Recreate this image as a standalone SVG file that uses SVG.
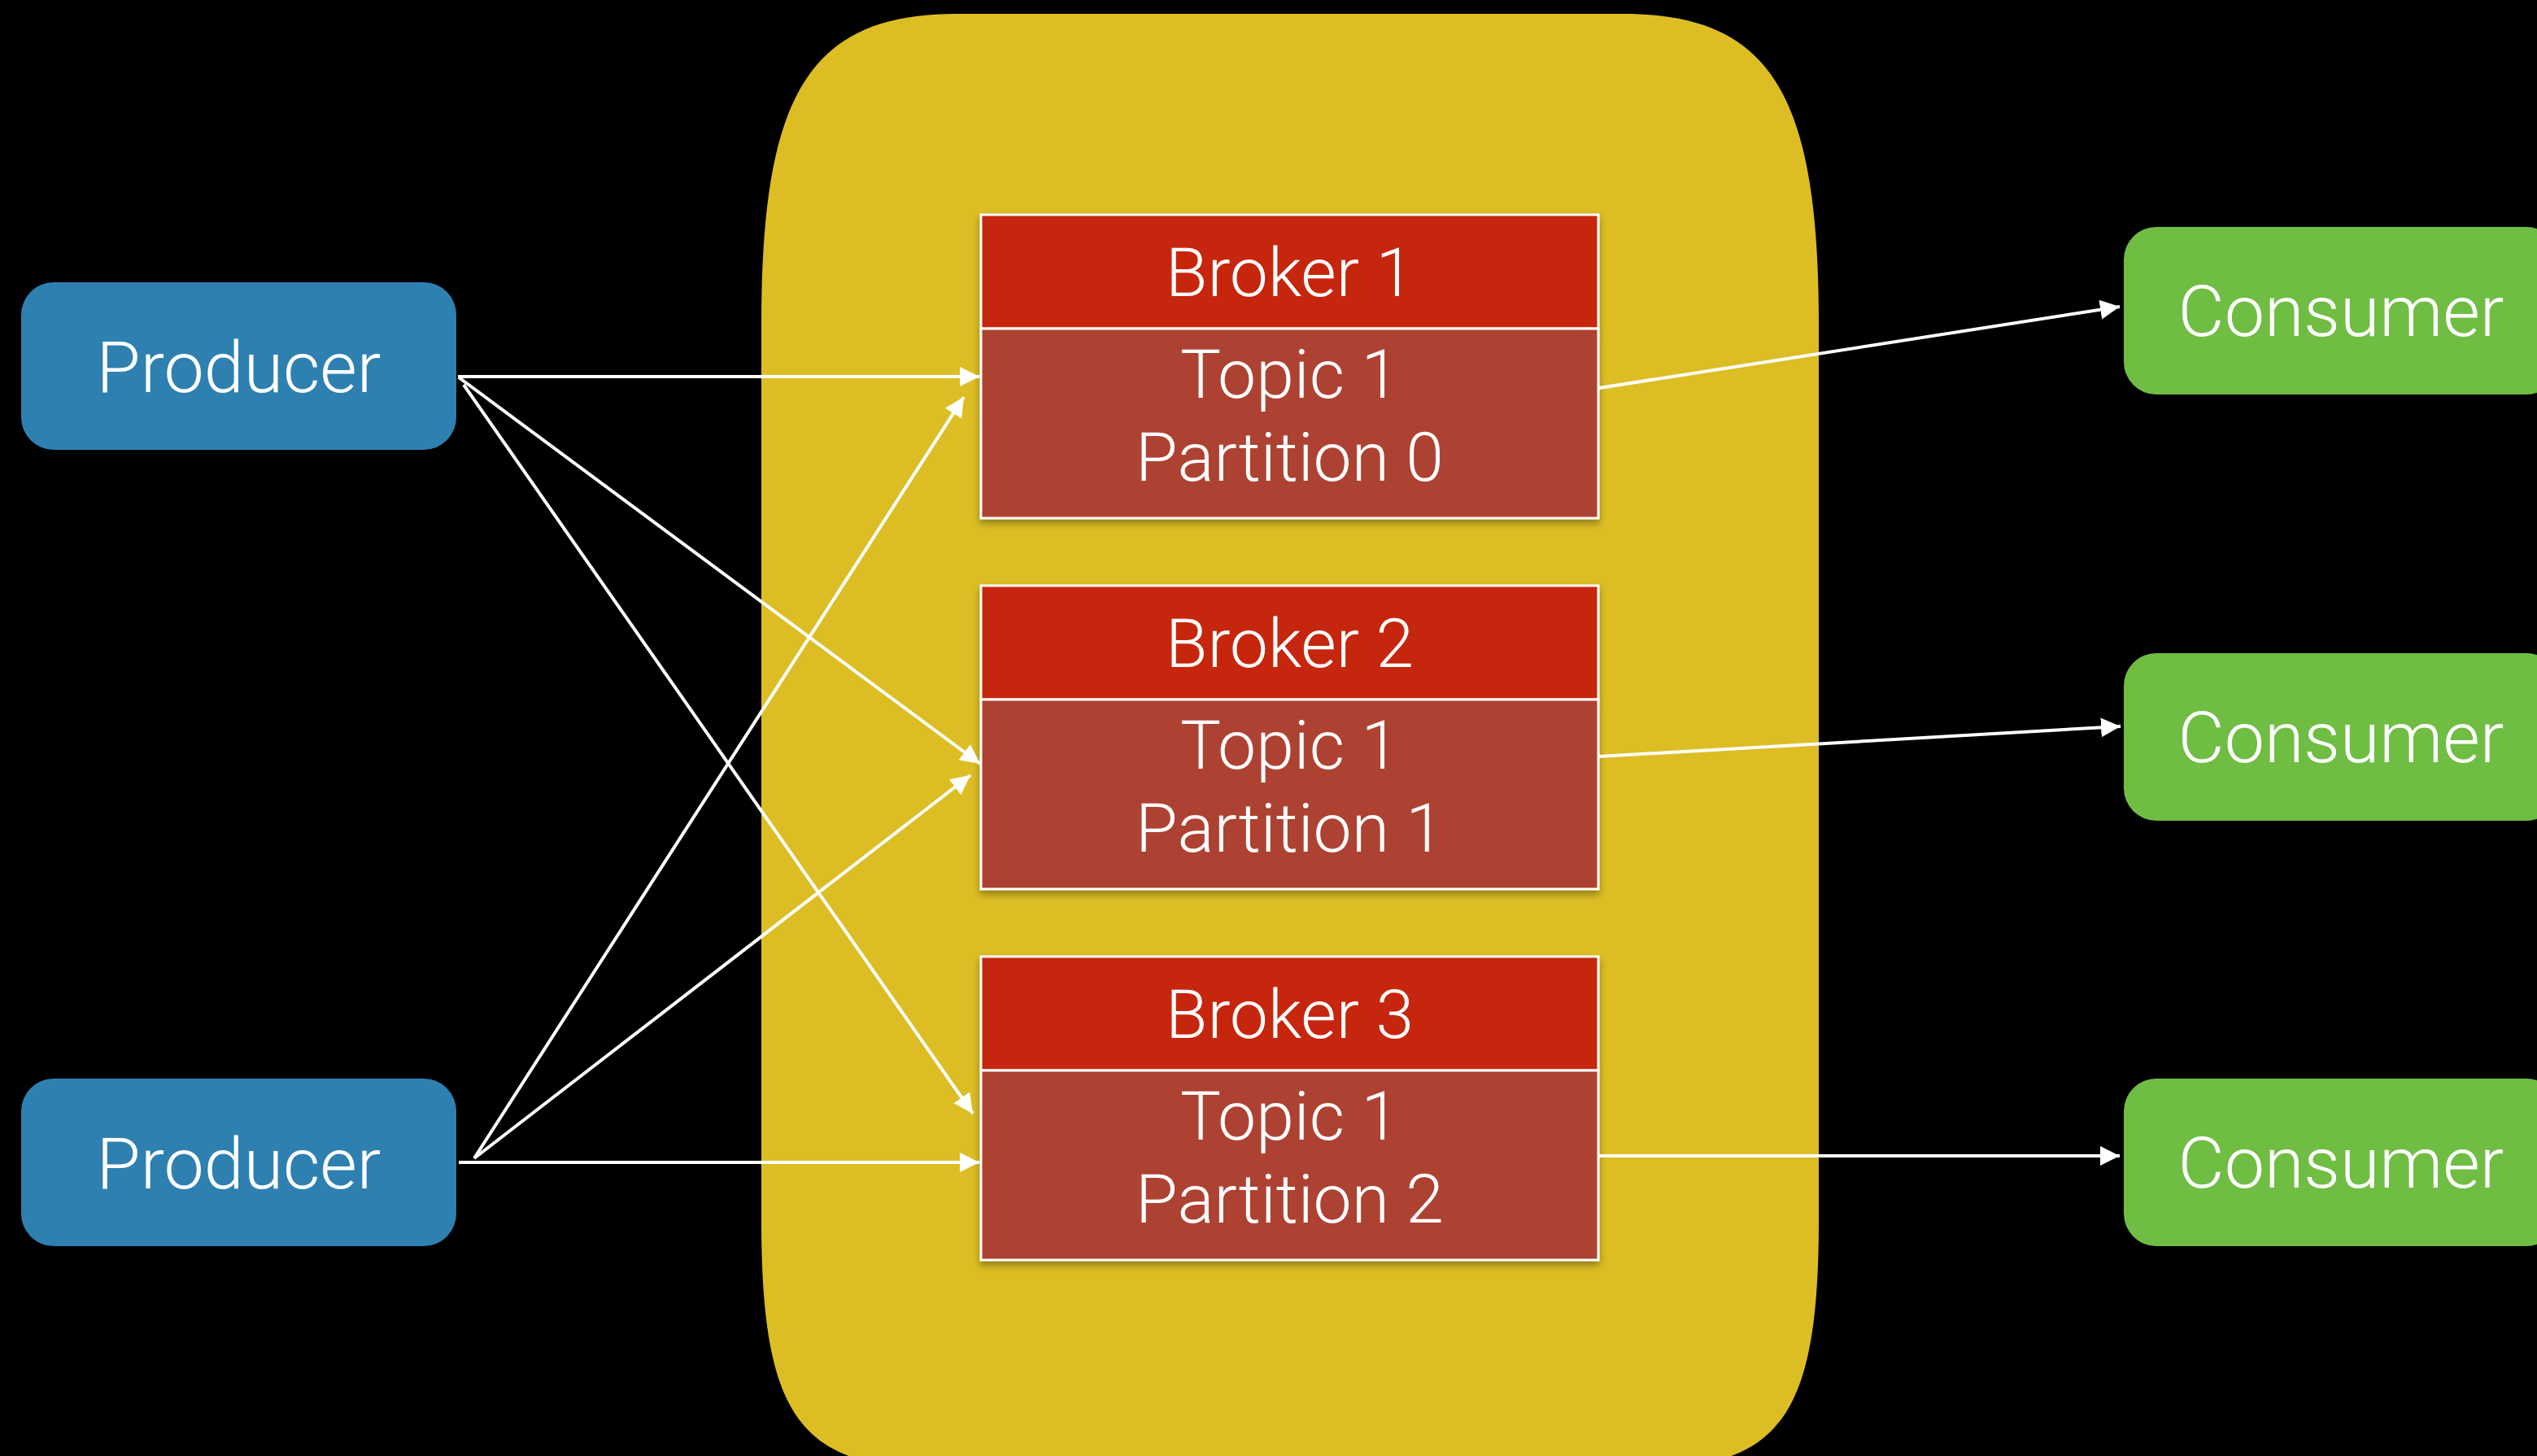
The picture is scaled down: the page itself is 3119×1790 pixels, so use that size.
<svg xmlns="http://www.w3.org/2000/svg" width="3119" height="1790" viewBox="0 0 3119 1790">
  <style>
    .lbl { font-family: Roboto, "Liberation Sans", Arial, sans-serif; font-weight: 300; fill: #ffffff; text-anchor: middle; }
    .big { font-size: 88px; }
    .brk { font-size: 84px; }
    .producer { fill: #2E80B1; }
    .consumer { fill: #70BD44; }
    .head { fill: #C62508; stroke: #ffffff; stroke-width: 3; }
    .body { fill: #AE4232; stroke: #ffffff; stroke-width: 3; }
    .conn { stroke: #ffffff; stroke-width: 4; fill: none; marker-end: url(#arrow); }
  </style>
  <defs>
    <marker id="arrow" markerUnits="userSpaceOnUse" markerWidth="26" markerHeight="26" refX="24" refY="12" orient="auto" viewBox="0 0 26 24">
      <path d="M0,0 L24,12 L0,24 z" fill="#ffffff"/>
    </marker>
    <filter id="shadow" x="-10%" y="-10%" width="120%" height="130%">
      <feDropShadow dx="0" dy="5" stdDeviation="5" flood-color="#000000" flood-opacity="0.35"/>
    </filter>
  </defs>
  <rect x="0" y="0" width="3119" height="1790" fill="#000000"/>

  <g id="cluster">
    <path d="M1176,17 L1996,17 C2180,17 2236,120 2236,400 L2236,1500 C2236,1760 2180,1807 1996,1807 L1176,1807 C992,1807 936,1760 936,1500 L936,400 C936,120 992,17 1176,17 Z" fill="#DCBE24"/>
  </g>

  <g id="producer1">
    <rect class="producer" x="26" y="347" width="535" height="206" rx="40" ry="40"/>
    <text class="lbl big" x="293.5" y="482">Producer</text>
  </g>
  <g id="producer2">
    <rect class="producer" x="26" y="1326" width="535" height="206" rx="40" ry="40"/>
    <text class="lbl big" x="293.5" y="1461">Producer</text>
  </g>

  <g id="broker1" filter="url(#shadow)">
    <rect class="head" x="1206" y="264" width="759" height="140"/>
    <rect class="body" x="1206" y="404" width="759" height="233"/>
    <text class="lbl brk" x="1585.5" y="364">Broker 1</text>
    <text class="lbl brk" x="1585.5" y="489">Topic 1</text>
    <text class="lbl brk" x="1585.5" y="591">Partition 0</text>
  </g>
  <g id="broker2" filter="url(#shadow)">
    <rect class="head" x="1206" y="720" width="759" height="140"/>
    <rect class="body" x="1206" y="860" width="759" height="233"/>
    <text class="lbl brk" x="1585.5" y="820">Broker 2</text>
    <text class="lbl brk" x="1585.5" y="945">Topic 1</text>
    <text class="lbl brk" x="1585.5" y="1047">Partition 1</text>
  </g>
  <g id="broker3" filter="url(#shadow)">
    <rect class="head" x="1206" y="1176" width="759" height="140"/>
    <rect class="body" x="1206" y="1316" width="759" height="233"/>
    <text class="lbl brk" x="1585.5" y="1276">Broker 3</text>
    <text class="lbl brk" x="1585.5" y="1401">Topic 1</text>
    <text class="lbl brk" x="1585.5" y="1503">Partition 2</text>
  </g>

  <g id="consumer1">
    <rect class="consumer" x="2611" y="279" width="535" height="206" rx="40" ry="40"/>
    <text class="lbl big" x="2878" y="413">Consumer</text>
  </g>
  <g id="consumer2">
    <rect class="consumer" x="2611" y="803" width="535" height="206" rx="40" ry="40"/>
    <text class="lbl big" x="2878" y="937">Consumer</text>
  </g>
  <g id="consumer3">
    <rect class="consumer" x="2611" y="1326" width="535" height="206" rx="40" ry="40"/>
    <text class="lbl big" x="2878" y="1460">Consumer</text>
  </g>

  <g id="connectors">
    <path class="conn" d="M563,463 L1204,463"/>
    <path class="conn" d="M564,464 L1205,939"/>
    <path class="conn" d="M570,473 L1196,1369"/>
    <path class="conn" d="M564,1429 L1204,1429"/>
    <path class="conn" d="M583,1424 L1185,488"/>
    <path class="conn" d="M583,1424 L1193,953"/>
    <path class="conn" d="M1966,477 L2606,377"/>
    <path class="conn" d="M1966,930 L2607,893"/>
    <path class="conn" d="M1966,1421 L2606,1421"/>
  </g>
</svg>
